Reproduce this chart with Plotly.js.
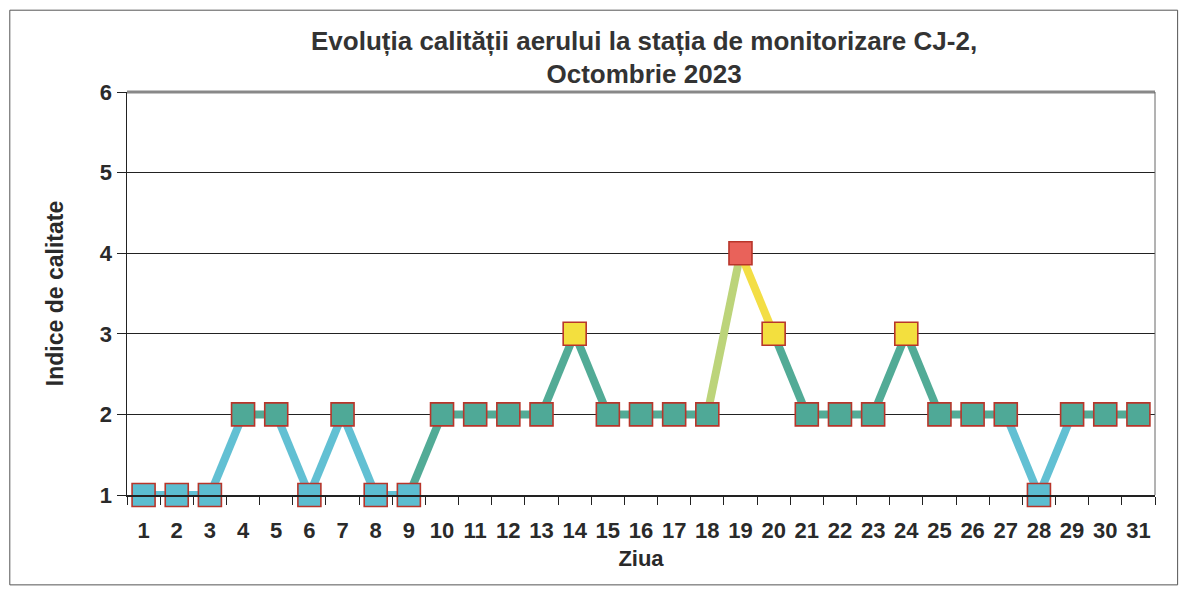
<!DOCTYPE html>
<html>
<head>
<meta charset="utf-8">
<script src="https://cdn.plot.ly/plotly-3.0.1.min.js"></script>
<style>html,body{margin:0;padding:0;background:#fff;}#chart{width:1187px;height:591px;}</style>
</head>
<body>
<div id="chart"></div>
<script>
const days = ["1","2","3","4","5","6","7","8","9","10","11","12","13","14","15","16","17","18","19","20","21","22","23","24","25","26","27","28","29","30","31"];
const indexValues = [1,1,1,2,2,1,2,1,1,2,2,2,2,3,2,2,2,2,4,3,2,2,2,3,2,2,2,1,2,2,2];
const yTicks = [1,2,3,4,5,6];

const markerColors = {1:"#5cbdd0", 2:"#4fa997", 3:"#f3df3e", 4:"#e9625a"};
function segColor(a, b, i) {
  const lo = Math.min(a, b), hi = Math.max(a, b);
  if (lo === 1 && hi === 2) return (i === 8) ? "#52ab96" : "#62c0d3";
  if (lo === 1) return "#62c0d3";
  if (hi === 2) return "#52ab96";
  if (lo === 2 && hi === 3) return "#52ab96";
  if (lo === 2 && hi === 4) return "#bcd47a";
  return "#f3de45";
}

const traces = [];
for (let i = 0; i < days.length - 1; i++) {
  traces.push({
    x: [days[i], days[i+1]],
    y: [indexValues[i], indexValues[i+1]],
    type: "scatter", mode: "lines", cliponaxis: false,
    line: {color: segColor(indexValues[i], indexValues[i+1], i), width: 8},
    hoverinfo: "skip", showlegend: false
  });
}
traces.push({
  x: days, y: indexValues, type: "scatter", mode: "markers", cliponaxis: false,
  marker: {symbol: "square", size: 23, color: indexValues.map(v => markerColors[v]),
           line: {color: "#b8352a", width: 1.6}},
  showlegend: false
});

const tickFont = {size: 22, color: "#2a2a2a", family: "Liberation Sans, Arial, sans-serif", weight: "bold"};

const layout = {
  width: 1187, height: 591,
  margin: {l: 127, r: 32, t: 92, b: 96},
  paper_bgcolor: "#ffffff", plot_bgcolor: "#ffffff",
  font: {family: "Liberation Sans, Arial, sans-serif", color: "#2a2a2a"},
  title: {
    text: "<b>Evoluția calității aerului la stația de monitorizare CJ-2,<br>Octombrie 2023</b>",
    font: {size: 26, color: "#333333"},
    xref: "paper", x: 0.503, xanchor: "center",
    yref: "container", y: 0.916, yanchor: "middle"
  },
  xaxis: {
    type: "category", categoryorder: "array", categoryarray: days,
    range: [-0.5, 30.5], tickangle: 0, ticklabelstandoff: 15,
    tickson: "boundaries", ticks: "outside", ticklen: 8, tickcolor: "#222",
    tickfont: tickFont,
    showgrid: false, zeroline: false,
    showline: true, linecolor: "#222", linewidth: 1.5,
    title: {text: "<b>Ziua</b>", font: {size: 22, color: "#2a2a2a"}, standoff: 8}
  },
  yaxis: {
    range: [1, 6], tickvals: yTicks, ticktext: yTicks.map(String),
    ticks: "outside", ticklen: 9, tickcolor: "#222",
    tickfont: tickFont,
    showgrid: true, gridcolor: "#222", gridwidth: 1,
    zeroline: false, showline: true, linecolor: "#222", linewidth: 1.5,
    title: {text: "<b>Indice de calitate</b>", font: {size: 23, color: "#2a2a2a"}, standoff: 30}
  },
  shapes: [
    {type: "line", xref: "paper", yref: "paper", x0: 0, x1: 1, y0: 1, y1: 1,
     line: {color: "#888", width: 3}},
    {type: "line", xref: "paper", yref: "paper", x0: 1, x1: 1, y0: 0, y1: 1,
     line: {color: "#666", width: 1}},
    {type: "rect", xref: "paper", yref: "paper", x0: -0.114, x1: 1.022, y0: -0.223, y1: 1.203,
     line: {color: "#555", width: 1}, fillcolor: "rgba(0,0,0,0)", layer: "below"}
  ]
};

Plotly.newPlot("chart", traces, layout, {displayModeBar: false, staticPlot: true});
</script>
</body>
</html>
